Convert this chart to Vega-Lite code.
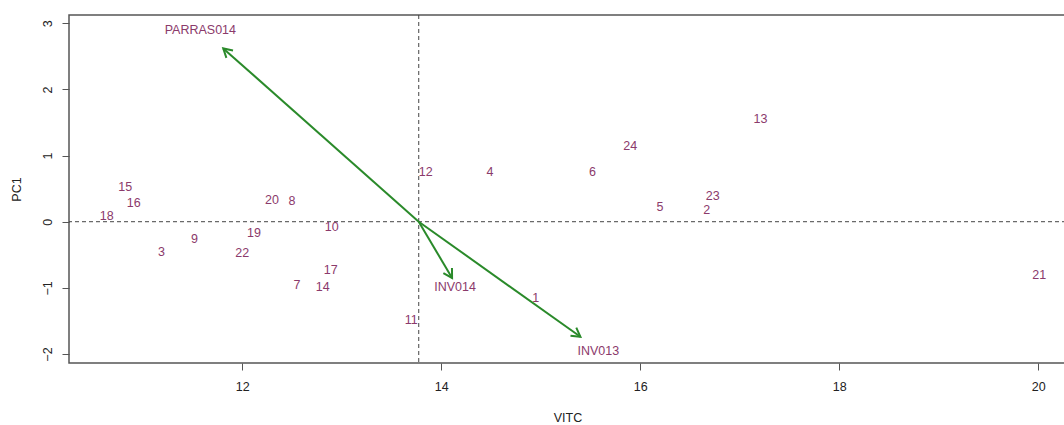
{
  "$schema": "https://vega.github.io/schema/vega-lite/v6.json",
  "autosize": {"type": "none"},
  "width": 997,
  "height": 348,
  "padding": {"left": 69, "top": 15, "right": 0, "bottom": 62},
  "background": "white",
  "config": {
    "font": "Liberation Sans",
    "view": {"stroke": "#555555", "strokeWidth": 1.5},
    "axis": {
      "grid": false,
      "domain": false,
      "tickColor": "#555555",
      "tickSize": 7,
      "tickWidth": 1,
      "labelFont": "Liberation Sans",
      "labelFontSize": 12.5,
      "labelColor": "#222222",
      "titleFont": "Liberation Sans",
      "titleFontSize": 12.5,
      "titleFontWeight": "normal",
      "titleColor": "#222222"
    }
  },
  "datasets": {
    "obs": [
      {"id": "1", "VITC": 14.95, "PC1": -1.16},
      {"id": "2", "VITC": 16.67, "PC1": 0.18},
      {"id": "3", "VITC": 11.19, "PC1": -0.46},
      {"id": "4", "VITC": 14.49, "PC1": 0.745},
      {"id": "5", "VITC": 16.2, "PC1": 0.216},
      {"id": "6", "VITC": 15.52, "PC1": 0.745},
      {"id": "7", "VITC": 12.55, "PC1": -0.95},
      {"id": "8", "VITC": 12.5, "PC1": 0.31},
      {"id": "9", "VITC": 11.52, "PC1": -0.26},
      {"id": "10", "VITC": 12.9, "PC1": -0.08},
      {"id": "11", "VITC": 13.7, "PC1": -1.48},
      {"id": "12", "VITC": 13.845, "PC1": 0.745},
      {"id": "13", "VITC": 17.21, "PC1": 1.556},
      {"id": "14", "VITC": 12.81, "PC1": -0.98},
      {"id": "15", "VITC": 10.825, "PC1": 0.524},
      {"id": "16", "VITC": 10.91, "PC1": 0.28},
      {"id": "17", "VITC": 12.89, "PC1": -0.725},
      {"id": "18", "VITC": 10.64, "PC1": 0.08},
      {"id": "19", "VITC": 12.12, "PC1": -0.17},
      {"id": "20", "VITC": 12.3, "PC1": 0.33},
      {"id": "21", "VITC": 20.01, "PC1": -0.8},
      {"id": "22", "VITC": 12.0, "PC1": -0.47},
      {"id": "23", "VITC": 16.73, "PC1": 0.39},
      {"id": "24", "VITC": 15.9, "PC1": 1.15}
    ],
    "vars": [
      {"name": "PARRAS014", "x0": 13.775, "y0": 0, "x": 11.81, "y": 2.62, "lx": 11.58, "ly": 2.9},
      {"name": "INV014", "x0": 13.775, "y0": 0, "x": 14.11, "y": -0.85, "lx": 14.14, "ly": -0.99},
      {"name": "INV013", "x0": 13.775, "y0": 0, "x": 15.4, "y": -1.74, "lx": 15.58, "ly": -1.96}
    ],
    "centre": [{"cx": 13.775, "cy": 0}]
  },
  "layer": [
    {
      "data": {"name": "centre"},
      "mark": {"type": "rule", "color": "#444444", "strokeWidth": 1, "strokeDash": [4, 3]},
      "encoding": {"x": {"field": "cx", "type": "quantitative"}}
    },
    {
      "data": {"name": "centre"},
      "mark": {"type": "rule", "color": "#444444", "strokeWidth": 1, "strokeDash": [4, 3]},
      "encoding": {"y": {"field": "cy", "type": "quantitative"}}
    },
    {
      "data": {"name": "obs"},
      "mark": {"type": "text", "color": "#8b3a6b", "fontSize": 12.5, "align": "center", "baseline": "middle", "font": "Liberation Sans"},
      "encoding": {
        "x": {
          "field": "VITC", "type": "quantitative",
          "scale": {"domain": [10.26, 20.28], "nice": false, "zero": false},
          "axis": {"title": "VITC", "values": [12, 14, 16, 18, 20], "format": "d", "labelPadding": 10, "titlePadding": 19}
        },
        "y": {
          "field": "PC1", "type": "quantitative",
          "scale": {"domain": [-2.136, 3.125], "nice": false, "zero": false},
          "axis": {"title": "PC1", "values": [-2, -1, 0, 1, 2, 3], "format": "d", "labelAngle": -90, "labelAlign": "center", "labelBaseline": "bottom", "labelPadding": 8, "titlePadding": 18}
        },
        "text": {"field": "id"}
      }
    },
    {
      "data": {"name": "vars"},
      "mark": {"type": "rule", "color": "#2a8a2a", "strokeWidth": 2},
      "encoding": {
        "x": {"field": "x0", "type": "quantitative"},
        "y": {"field": "y0", "type": "quantitative"},
        "x2": {"field": "x"},
        "y2": {"field": "y"}
      }
    },
    {
      "data": {"name": "vars"},
      "transform": [
        {"calculate": "atan2((datum.x - datum.x0) * 99.5, (datum.y - datum.y0) * 66.2) * 180 / PI", "as": "heading"}
      ],
      "mark": {
        "type": "point",
        "shape": "M -0.5 0.866 L 0 0 L 0.5 0.866",
        "filled": false,
        "size": 400,
        "color": "#2a8a2a",
        "strokeWidth": 2,
        "opacity": 1
      },
      "encoding": {
        "x": {"field": "x", "type": "quantitative"},
        "y": {"field": "y", "type": "quantitative"},
        "angle": {"field": "heading", "type": "quantitative", "scale": null}
      }
    },
    {
      "data": {"name": "vars"},
      "mark": {"type": "text", "color": "#8b3a6b", "fontSize": 12.5, "align": "center", "baseline": "middle", "font": "Liberation Sans"},
      "encoding": {
        "x": {"field": "lx", "type": "quantitative"},
        "y": {"field": "ly", "type": "quantitative"},
        "text": {"field": "name"}
      }
    }
  ]
}
